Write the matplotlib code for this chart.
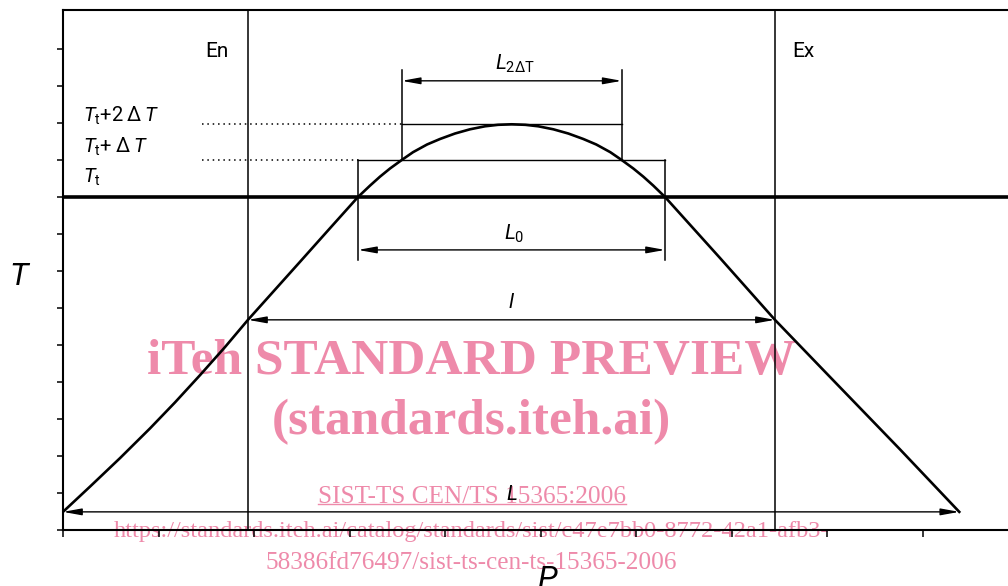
import matplotlib
matplotlib.use("Agg")
import matplotlib.pyplot as plt
from matplotlib import font_manager

# Diagram data (P along the process, T temperature)

curve_p = [0.0, 0.283, 0.597, 0.911, 1.173, 1.435, 1.696, 1.937, 2.482, 2.796,
           3.089, 3.215, 3.319, 3.424, 3.547, 3.665, 3.812, 3.948, 4.105, 4.262,
           4.419, 4.555, 4.698, 4.841, 4.977, 5.134, 5.291, 5.448, 5.584, 5.731,
           5.85, 5.972, 6.077, 6.181, 6.304, 6.88, 7.455, 8.03, 8.764, 9.385]
curve_t = [0.49, 1.173, 1.943, 2.746, 3.449, 4.186, 4.943, 5.68, 7.249, 8.157,
           9.0, 9.308, 9.549, 9.770, 10.0, 10.211, 10.419, 10.568, 10.716, 10.830,
           10.911, 10.951, 10.965, 10.951, 10.911, 10.830, 10.716, 10.568, 10.419, 10.211,
           10.0, 9.770, 9.549, 9.308, 9.0, 7.35, 5.68, 4.14, 2.18, 0.49]

t_levels = [9.0, 10.0, 10.965]          # T_t, T_t+dT, T_t+2dT
level_labels = [r"$T_\mathrm{t}$",
                r"$T_\mathrm{t}$" + "+\u2009Δ\u2009" + r"$T$",
                r"$T_\mathrm{t}$" + "+2\u2009Δ\u2009" + r"$T$"]
level_label_t = [9.38, 10.19, 11.03]

p_en, p_ex = 1.937, 7.455
p_l0 = (3.089, 6.304)
p_l2 = (3.547, 5.85)
p_L = (0.0, 9.385)
t_l = 5.68
x_ticks = list(range(0, 10))
y_ticks = list(range(0, 14))

wm_lines = ["iTeh STANDARD PREVIEW", "(standards.iteh.ai)", "SIST-TS CEN/TS 15365:2006",
            "https://standards.iteh.ai/catalog/standards/sist/c47e7bb0-8772-42a1-afb3-",
            "58386fd76497/sist-ts-cen-ts-15365-2006"]

# Fonts

names = {f.name for f in font_manager.fontManager.ttflist}
sans = "Roboto" if "Roboto" in names else "DejaVu Sans"
serif = "Liberation Serif" if "Liberation Serif" in names else "DejaVu Serif"
plt.rcParams["mathtext.fontset"] = "custom"
plt.rcParams["mathtext.rm"] = sans
plt.rcParams["mathtext.it"] = sans + ":italic"
plt.rcParams["mathtext.bf"] = sans + ":bold"
plt.rcParams["font.family"] = [sans, "DejaVu Sans"]

fig = plt.figure(figsize=(10.08, 5.86), dpi=100)
ax = fig.add_axes([63 / 1008, 56 / 586, 1.0, 520 / 586])
ax.patch.set_visible(False)
ax.set_xlim(0, 1008 / 95.5)
ax.set_ylim(0, 520 / 37)

for side in ["left", "bottom", "top"]:
    ax.spines[side].set_linewidth(1.5)
ax.spines["right"].set_visible(False)
ax.set_xticks(x_ticks)
ax.set_yticks(y_ticks)
ax.set_xticklabels([])
ax.set_yticklabels([])
ax.tick_params(axis="x", direction="out", length=5, width=1.1)
ax.tick_params(axis="y", direction="out", length=4.3, width=1.1)

# entry / exit
ax.axvline(p_en, color="black", lw=1.1)
ax.axvline(p_ex, color="black", lw=1.1)

# T_t reference line
ax.axhline(t_levels[0], color="black", lw=2.6)

# temperature profile
ax.plot(curve_p, curve_t, color="black", lw=1.9, solid_joinstyle="round")

# level boxes
ax.plot([p_l0[0], p_l0[1]], [t_levels[1], t_levels[1]], color="black", lw=1.0)
ax.plot([p_l2[0], p_l2[1]], [t_levels[2], t_levels[2]], color="black", lw=1.0)
ax.plot([1.455, p_l0[0]], [t_levels[1], t_levels[1]], color="black", lw=1.1, ls=(0, (1, 2.5)))
ax.plot([1.455, p_l2[0]], [t_levels[2], t_levels[2]], color="black", lw=1.1, ls=(0, (1, 2.5)))

# extension lines
for p in p_l0:
    ax.plot([p, p], [t_levels[1], 7.3], color="black", lw=1.1)
for p in p_l2:
    ax.plot([p, p], [t_levels[1], 12.43], color="black", lw=1.1)


def dim_arrow(p0, p1, t):
    ax.annotate("", xy=(p1, t), xytext=(p0, t),
                arrowprops=dict(arrowstyle="<|-|>,head_length=1.1,head_width=0.2",
                                color="black", lw=1.0, shrinkA=0, shrinkB=0,
                                mutation_scale=10))


dim_arrow(p_l2[0], p_l2[1], 12.14)
dim_arrow(p_l0[0], p_l0[1], 7.57)
dim_arrow(p_en, p_ex, t_l)
dim_arrow(p_L[0], p_L[1], 0.49)

ax.text(4.73, 12.43, r"$L_{2\Delta\mathrm{T}}$", fontsize=15, ha="center", va="baseline")
ax.text(4.72, 7.84, r"$L_0$", fontsize=15, ha="center", va="baseline")
ax.text(4.70, 6.0, r"$l$", fontsize=15, ha="center", va="baseline")
ax.text(4.70, 0.81, r"$L$", fontsize=15, ha="center", va="baseline")
ax.text(1.487, 12.78, "En", fontsize=15, ha="left", va="baseline")
ax.text(7.64, 12.78, "Ex", fontsize=15, ha="left", va="baseline")
for lab, tt in zip(level_labels, level_label_t):
    ax.text(0.21, tt, lab, fontsize=14.5, ha="left", va="baseline")

ax.text(-0.45, 6.62, r"$T$", fontsize=23, ha="center", va="baseline", clip_on=False)
ax.text(5.08, -1.57, r"$P$", fontsize=23, ha="center", va="baseline", clip_on=False)

# watermark (under the drawing)
pink = "#EE8AAA"
fig.text(0.468, 1 - 362 / 586, wm_lines[0], family=serif, weight="bold", fontsize=37,
         color=pink, ha="center", va="center", zorder=-1)
fig.text(0.468, 1 - 422 / 586, wm_lines[1], family=serif, weight="bold", fontsize=37,
         color=pink, ha="center", va="center", zorder=-1)
sist = fig.text(0.468, 1 - 497 / 586, wm_lines[2], family=serif, fontsize=18.2,
                color=pink, ha="center", va="center", zorder=-1)
fig.text(0.468, 1 - 532 / 586, wm_lines[3], family=serif, fontsize=17.6,
         color=pink, ha="center", va="center", zorder=-1)
fig.text(0.468, 1 - 563 / 586, wm_lines[4], family=serif, fontsize=18.2,
         color=pink, ha="center", va="center", zorder=-1)

fig.canvas.draw()
bb = sist.get_window_extent().transformed(fig.transFigure.inverted())
fig.add_artist(plt.Line2D([bb.x0, bb.x1], [bb.y0 + 0.006, bb.y0 + 0.006],
                          transform=fig.transFigure, color=pink, lw=1.0, zorder=-1))

fig.savefig("out.png", dpi=100)
